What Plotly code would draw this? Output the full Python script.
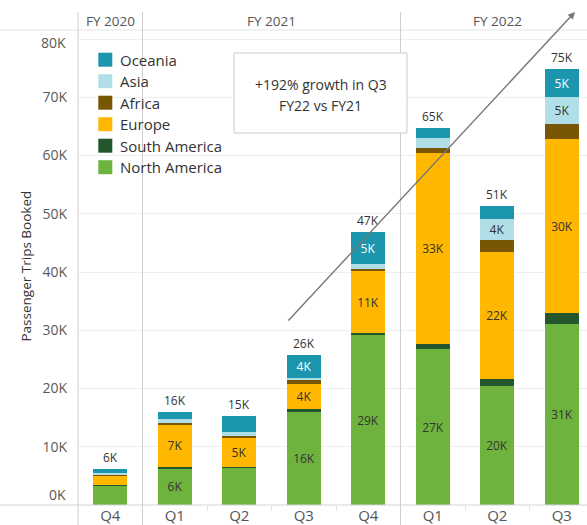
import plotly.graph_objects as go

# ---------------- data (thousands of passenger trips) ----------------
quarters = ["Q4", "Q1", "Q2", "Q3", "Q4", "Q1", "Q2", "Q3"]
fiscal_years = ["FY 2020", "FY 2021", "FY 2022"]
fy_quarter_counts = [1, 4, 3]

north_america = [3.3, 6.3, 6.5, 16.05, 29.1, 26.8, 20.4, 31.1]
south_america = [0.2, 0.25, 0.1, 0.35, 0.4, 0.9, 1.25, 1.9]
europe = [1.6, 7.35, 4.85, 4.4, 10.7, 32.8, 21.7, 29.8]
africa = [0.2, 0.2, 0.45, 0.6, 0.4, 0.8, 2.1, 2.6]
asia = [0.2, 0.6, 0.6, 0.4, 0.8, 1.7, 3.6, 4.7]
oceania = [0.6, 1.35, 2.85, 3.9, 5.4, 1.8, 2.25, 4.7]

north_america_labels = ["", "6K", "", "16K", "29K", "27K", "20K", "31K"]
south_america_labels = ["", "", "", "", "", "", "", ""]
europe_labels = ["", "7K", "5K", "4K", "11K", "33K", "22K", "30K"]
africa_labels = ["", "", "", "", "", "", "", ""]
asia_labels = ["", "", "", "", "", "", "4K", "5K"]
oceania_labels = ["", "", "", "4K", "5K", "", "", "5K"]

y_ticks = [0, 10, 20, 30, 40, 50, 60, 70, 80]
y_tick_labels = ["0K", "10K", "20K", "30K", "40K", "50K", "60K", "70K", "80K"]

callout_lines = ["+192% growth in Q3", "FY22 vs FY21"]

# ---------------- styling / layout constants ----------------
W, H = 587, 525
ML, MB = 78, 20
PLOT_W = W - ML
PLOT_H = H - MB
SLOT = 64.5            # px per quarter
PX_PER_K = 5.825       # px per thousand
FONT = "Open Sans"
TICK_COLOR = "#595959"

series = [
    ("North America", north_america, north_america_labels, "#6fb33f", "#333333"),
    ("South America", south_america, south_america_labels, "#24572d", "#ffffff"),
    ("Europe", europe, europe_labels, "#ffb700", "#333333"),
    ("Africa", africa, africa_labels, "#785604", "#ffffff"),
    ("Asia", asia, asia_labels, "#b1dfe7", "#333333"),
    ("Oceania", oceania, oceania_labels, "#1b96ad", "#ffffff"),
]

x = list(range(len(quarters)))


def px_x(p):
    return (p - ML) / PLOT_W


def px_y(p):
    return (PLOT_H - p) / PLOT_H


def data_x_to_paper(v):
    return (v + 0.5) * SLOT / PLOT_W


fig = go.Figure()
for name, vals, labels, color, tcolor in series:
    fig.add_trace(go.Bar(
        x=x, y=vals, name=name, width=0.526,
        marker=dict(color=color, line=dict(width=0)),
        text=labels, textposition="inside", insidetextanchor="middle",
        textangle=0, constraintext="none",
        textfont=dict(family=FONT, size=12, color=tcolor),
        hoverinfo="skip", showlegend=False,
    ))

totals = [sum(s[1][i] for s in series) for i in x]

annotations = []
for i, t in zip(x, totals):
    annotations.append(dict(
        x=i, y=t, xref="x", yref="y", text=f"{round(t)}K", showarrow=False,
        yanchor="bottom", yshift=1,
        font=dict(family=FONT, size=12, color="#333333"),
    ))

shapes = []
# header bottom border and bottom axis line
shapes.append(dict(type="line", xref="paper", yref="paper",
                   x0=px_x(0), x1=1, y0=px_y(30), y1=px_y(30),
                   line=dict(color="#e4e4e4", width=1), layer="below"))
shapes.append(dict(type="line", xref="paper", yref="paper",
                   x0=px_x(0), x1=1, y0=0, y1=0,
                   line=dict(color="#d4d4d4", width=1.2), layer="above"))
# pane separators (axis line + fiscal year boundaries)
bounds = [-0.5]
acc = -0.5
for c in fy_quarter_counts[:-1]:
    acc += c
    bounds.append(acc)
for b in bounds:
    xp = data_x_to_paper(b)
    shapes.append(dict(type="line", xref="paper", yref="paper",
                       x0=xp, x1=xp, y0=px_y(H), y1=px_y(12),
                       line=dict(color="#cfcfcf", width=1), layer="above"))

# fiscal year headers
start = 0
for fy, c in zip(fiscal_years, fy_quarter_counts):
    center = start + (c - 1) / 2
    annotations.append(dict(
        x=data_x_to_paper(center), y=px_y(21), xref="paper", yref="paper",
        text=fy, showarrow=False, xanchor="center", yanchor="middle",
        font=dict(family=FONT, size=13.5, color="#555555"),
    ))
    start += c

# callout box
shapes.append(dict(type="rect", xref="paper", yref="paper",
                   x0=px_x(234), x1=px_x(407), y0=px_y(133), y1=px_y(53),
                   fillcolor="white", line=dict(color="#cccccc", width=1),
                   layer="above"))
for j, line in enumerate(callout_lines):
    annotations.append(dict(
        x=px_x(320.5), y=px_y(84 + 22 * j), xref="paper", yref="paper",
        text=line, showarrow=False, xanchor="center", yanchor="middle",
        font=dict(family=FONT, size=14, color="#333333"),
    ))

# trend arrow
annotations.append(dict(
    x=(575 - ML) / SLOT - 0.5, y=(PLOT_H - 12) / PX_PER_K, xref="x", yref="y",
    ax=(287 - ML) / SLOT - 0.5, ay=(PLOT_H - 322) / PX_PER_K, axref="x", ayref="y",
    text="", showarrow=True, arrowhead=2, arrowsize=1, arrowwidth=1.4,
    arrowcolor="#777777", standoff=0, startstandoff=0,
))

# custom legend (top = last series)
for k, (name, vals, labels, color, tcolor) in enumerate(reversed(series)):
    cy = 59.7 + 21.5 * k
    shapes.append(dict(type="rect", xref="paper", yref="paper",
                       x0=px_x(98.3), x1=px_x(112.3), y0=px_y(cy + 7), y1=px_y(cy - 7),
                       fillcolor=color, line=dict(width=0), layer="above"))
    annotations.append(dict(
        x=px_x(117.5), y=px_y(cy), xref="paper", yref="paper", text=name,
        showarrow=False, xanchor="left", yanchor="middle",
        font=dict(family=FONT, size=15, color="#333333"),
    ))

# y-axis title
annotations.append(dict(
    x=px_x(25), y=px_y(266.5), xref="paper", yref="paper",
    text="Passenger Trips Booked", textangle=-90, showarrow=False,
    xanchor="center", yanchor="middle",
    font=dict(family=FONT, size=13.5, color="#333333"),
))

# the lowest and highest tick labels sit inside the axis extent (as in the reference)
axis_ticktext = list(y_tick_labels)
axis_ticktext[0] = ""
axis_ticktext[-1] = ""
annotations.append(dict(
    x=px_x(68), y=px_y(494), xref="paper", yref="paper", text=y_tick_labels[0],
    showarrow=False, xanchor="right", yanchor="middle",
    font=dict(family=FONT, size=14, color=TICK_COLOR),
))
annotations.append(dict(
    x=px_x(68), y=px_y(43), xref="paper", yref="paper", text=y_tick_labels[-1],
    showarrow=False, xanchor="right", yanchor="middle",
    font=dict(family=FONT, size=14, color=TICK_COLOR),
))

minor_vals = [i + 0.5 for i in x[:-1] if (i + 0.5) not in bounds]

fig.update_layout(
    width=W, height=H, barmode="stack",
    margin=dict(l=ML, r=0, t=0, b=MB, pad=0),
    paper_bgcolor="white", plot_bgcolor="white",
    font=dict(family=FONT),
    showlegend=False,
    bargap=0,
    xaxis=dict(
        range=[-0.5, PLOT_W / SLOT - 0.5], tickmode="array", tickvals=x,
        ticktext=quarters, showgrid=False, zeroline=False, showline=False,
        ticks="", tickfont=dict(family=FONT, size=15, color="#555555"),
        minor=dict(tickmode="array", tickvals=minor_vals, ticks="outside",
                   ticklen=5, tickcolor="#e0e0e0", tickwidth=1, showgrid=False),
        fixedrange=True,
    ),
    yaxis=dict(
        range=[0, PLOT_H / PX_PER_K], tickmode="array", tickvals=y_ticks,
        ticktext=axis_ticktext, showgrid=True, gridcolor="#eeeeee", gridwidth=1,
        zeroline=False, showline=False, ticks="", ticklabelstandoff=10,
        tickfont=dict(family=FONT, size=14, color=TICK_COLOR),
        fixedrange=True,
    ),
    shapes=shapes,
    annotations=annotations,
)

fig.write_html(
    "out.html",
    config={"displayModeBar": False},
    post_script="document.body.style.margin='0';document.body.style.overflow='hidden';",
)
